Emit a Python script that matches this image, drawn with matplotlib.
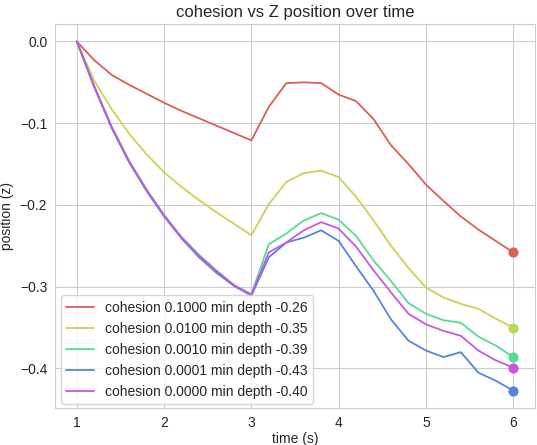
import matplotlib
matplotlib.use("Agg")
import matplotlib.pyplot as plt
import seaborn as sns
import numpy as np

# time steps (s)
time = [1.0, 1.2, 1.4, 1.6, 1.8, 2.0, 2.2, 2.4, 2.6, 2.8, 3.0,
        3.2, 3.4, 3.6, 3.8, 4.0, 4.2, 4.4, 4.6, 4.8, 5.0,
        5.2, 5.4, 5.6, 5.8, 6.0]

cohesions = [0.1, 0.01, 0.001, 0.0001, 0.0]

z_c1 = [0.0, -0.023, -0.041, -0.053, -0.064, -0.075, -0.085, -0.094, -0.103, -0.112, -0.121,
        -0.080, -0.051, -0.050, -0.051, -0.065, -0.073, -0.095, -0.127, -0.150, -0.175,
        -0.195, -0.214, -0.230, -0.244, -0.258]
z_c2 = [0.0, -0.048, -0.083, -0.113, -0.138, -0.160, -0.178, -0.194, -0.209, -0.223, -0.237,
        -0.199, -0.172, -0.161, -0.158, -0.166, -0.190, -0.219, -0.250, -0.277, -0.301,
        -0.313, -0.321, -0.327, -0.339, -0.350]
z_c3 = [0.0, -0.055, -0.104, -0.146, -0.181, -0.212, -0.239, -0.261, -0.280, -0.298, -0.309,
        -0.248, -0.235, -0.219, -0.210, -0.218, -0.238, -0.268, -0.293, -0.320, -0.333,
        -0.341, -0.344, -0.361, -0.372, -0.386]
z_c4 = [0.0, -0.056, -0.106, -0.148, -0.183, -0.214, -0.241, -0.264, -0.283, -0.299, -0.311,
        -0.264, -0.246, -0.240, -0.231, -0.244, -0.275, -0.305, -0.340, -0.366, -0.378,
        -0.386, -0.380, -0.405, -0.415, -0.427]
z_c5 = [0.0, -0.055, -0.105, -0.147, -0.182, -0.213, -0.240, -0.262, -0.281, -0.298, -0.310,
        -0.258, -0.246, -0.231, -0.221, -0.229, -0.251, -0.280, -0.307, -0.333, -0.346,
        -0.354, -0.360, -0.378, -0.390, -0.399]

series = [z_c1, z_c2, z_c3, z_c4, z_c5]

sns.set_style("whitegrid")
plt.rcParams['font.family'] = ['Liberation Sans', 'DejaVu Sans']
colors = sns.color_palette("hls", len(cohesions))

fig = plt.figure(figsize=(5.37, 4.45), dpi=100)
ax = fig.add_axes([0.1024, 0.0831, 0.8939, 0.863])

for c, z, col in zip(cohesions, series, colors):
    label = f"cohesion {c:.4f} min depth {min(z):.2f}"
    ax.plot(time, z, color=col, linewidth=1.3, label=label)
    ax.scatter([time[-1]], [z[-1]], color=col, s=40, zorder=3)

ax.set_title("cohesion vs Z position over time", fontsize=12, pad=5)
ax.set_xlabel("time (s)", fontsize=10, labelpad=2)
ax.set_ylabel("position (z)", fontsize=10, labelpad=4)
ax.tick_params(labelsize=10, pad=2)
ax.set_yticks([0.0, -0.1, -0.2, -0.3, -0.4])
ax.legend(loc="lower left", fontsize=10, bbox_to_anchor=(0.012, 0.01), borderaxespad=0)

fig.savefig("out.png", dpi=100)
